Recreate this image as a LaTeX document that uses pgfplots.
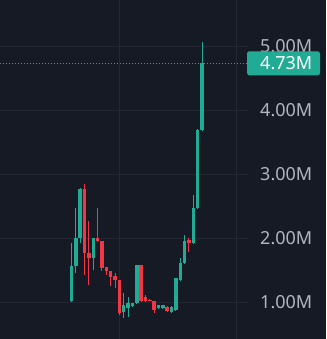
\documentclass[border=0pt]{standalone}
\usepackage{pgfplots}
\pgfplotsset{compat=1.18}
\usepackage{pgfplotstable}
\usepackage{fontspec}
\setmainfont{Noto Sans}
\definecolor{bg}{HTML}{161A25}
\definecolor{grd}{HTML}{242733}
\definecolor{up}{HTML}{22AB94}
\definecolor{dn}{HTML}{F23645}
\definecolor{lbl}{HTML}{B2B5BE}

\pgfplotstableread{
x  o     h     l     c
0  1.016 1.922 1.000 1.563
1  1.563 2.469 1.453 2.000
2  2.000 2.780 1.922 2.766
5  1.688 2.000 1.500 2.000
12 0.844 1.141 0.750 0.953
13 0.906 1.078 0.766 0.984
14 0.938 0.990 0.930 0.984
15 0.984 1.580 0.980 1.578
20 0.906 0.960 0.890 0.953
21 0.906 0.960 0.890 0.953
23 0.844 0.930 0.840 0.922
24 0.875 1.380 0.860 1.375
25 1.344 1.688 1.340 1.609
26 1.609 2.047 1.600 1.953
28 1.922 2.672 1.920 2.469
29 2.469 3.700 2.460 3.688
30 3.688 5.063 3.680 4.730
}\greendata

\pgfplotstableread{
x  o     h     l     c
3  2.766 2.844 1.422 1.766
4  1.766 2.266 1.266 1.688
6  2.000 2.469 1.940 1.953
7  1.953 1.960 1.484 1.531
8  1.547 1.550 1.420 1.484
9  1.484 1.490 1.250 1.391
10 1.406 1.453 1.220 1.344
11 1.344 1.350 0.797 0.828
16 1.578 1.580 1.000 1.016
17 1.078 1.110 1.000 1.016
18 1.030 1.040 1.010 1.016
19 1.016 1.020 0.828 0.875
22 0.922 0.930 0.844 0.859
27 1.969 2.000 1.781 1.922
}\reddata

\begin{document}
\begin{tikzpicture}
\fill[bg] (0,0) rectangle (326pt,339pt);
\begin{axis}[
  at={(0,0)}, anchor=south west,
  scale only axis, width=248pt, height=339pt,
  xmin=-16.44, xmax=40.57, ymin=0.422, ymax=5.719,
  axis line style={draw=none},
  major tick style={draw=none},
  xtick={11,38}, xticklabel=\empty,
  ytick={1,2,3,4,5},
  yticklabels={1.00M,2.00M,3.00M,4.00M,5.00M},
  yticklabel pos=right,
  yticklabel style={anchor=west, inner sep=0pt, xshift=12pt, text=lbl, font=\fontsize{18}{20}\selectfont},
  xmajorgrids, ymajorgrids,
  grid style={draw=grd, line width=0.9pt},
  clip=false,
]
% last price line
\addplot[up, dash pattern=on 1pt off 2pt, line width=0.9pt, forget plot] coordinates {(-16.44,4.73) (40.57,4.73)};
% wicks
\addplot[draw=none, mark=none, forget plot,
  error bars/.cd, y dir=both, y explicit, error mark=none,
  error bar style={draw=up, line width=1pt}]
  table[x=x, y=o, y error plus expr=\thisrow{h}-\thisrow{o}, y error minus expr=\thisrow{o}-\thisrow{l}] {\greendata};
\addplot[draw=none, mark=none, forget plot,
  error bars/.cd, y dir=both, y explicit, error mark=none,
  error bar style={draw=dn, line width=1pt}]
  table[x=x, y=o, y error plus expr=\thisrow{h}-\thisrow{o}, y error minus expr=\thisrow{o}-\thisrow{l}] {\reddata};
% bodies
\addplot[draw=none, mark=none, forget plot,
  error bars/.cd, y dir=plus, y explicit, error mark=none,
  error bar style={draw=up, line width=3.5pt}]
  table[x=x, y=o, y error plus expr=\thisrow{c}-\thisrow{o}] {\greendata};
\addplot[draw=none, mark=none, forget plot,
  error bars/.cd, y dir=minus, y explicit, error mark=none,
  error bar style={draw=dn, line width=3.5pt}]
  table[x=x, y=o, y error minus expr=\thisrow{o}-\thisrow{c}] {\reddata};
\coordinate (lastp) at (axis cs:40.57,4.73);
\end{axis}
\fill[up, rounded corners=2.5pt] ([xshift=-1pt,yshift=-12pt]lastp) rectangle ([xshift=72pt,yshift=12pt]lastp);
\node[anchor=west, inner sep=0pt, text=white, font=\fontsize{18}{20}\selectfont] at ([xshift=12pt]lastp) {4.73M};
\pgfresetboundingbox
\path[use as bounding box] (0,0) rectangle (326pt,339pt);
\end{tikzpicture}
\end{document}
